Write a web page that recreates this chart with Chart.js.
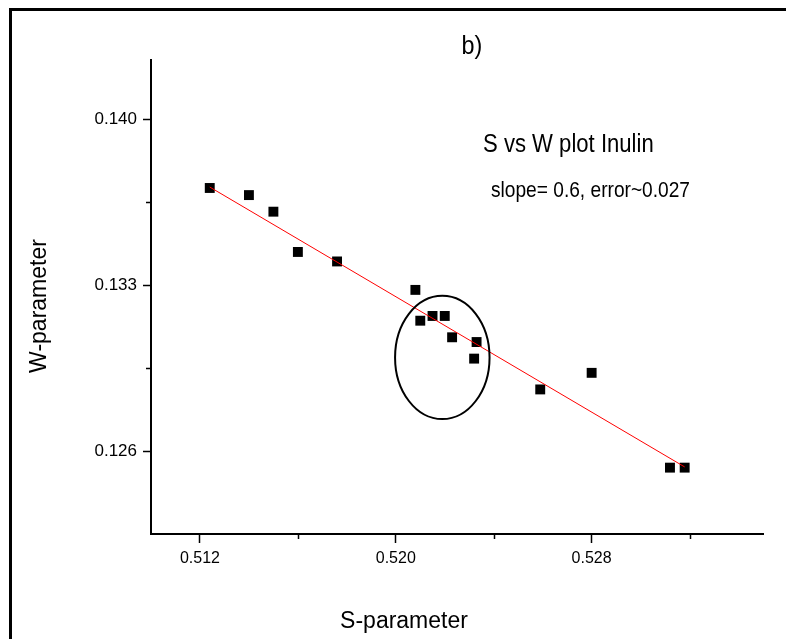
<!DOCTYPE html>
<html><head><meta charset="utf-8">
<script src="https://cdn.jsdelivr.net/npm/chart.js@4/dist/chart.umd.min.js"></script>
<style>html,body{margin:0;padding:0;background:#fff;overflow:hidden}#wrap{width:786px;height:639px;position:relative}</style>
</head><body><div id="wrap"><canvas id="c" width="786" height="639"></canvas></div>
<script>
const sValues = [0.5124, 0.5140, 0.5150, 0.5160, 0.5176, 0.5208, 0.5210, 0.5215, 0.5220, 0.5223, 0.5233, 0.5232, 0.5259, 0.5280, 0.5312, 0.5318];
const wValues = [0.1371, 0.1368, 0.1361, 0.1344, 0.1340, 0.1328, 0.1315, 0.1317, 0.1317, 0.1308, 0.1306, 0.1299, 0.1286, 0.1293, 0.1253, 0.1253];
const fitS = [0.5124, 0.5318];
const fitW = [0.13714, 0.12533];
const xMajorTicks = [0.512, 0.520, 0.528];
const xMinorTicks = [0.516, 0.524, 0.532];
const yMajorTicks = [0.126, 0.133, 0.140];
const yMinorTicks = [0.1295, 0.1365];
const ellipseCenter = [0.5219, 0.12995];
const ellipseRadii = [0.00193, 0.0026];
const panelLabel = 'b)';
const plotTitle = 'S vs W plot Inulin';
const fitNote = 'slope= 0.6, error~0.027';
const xTitle = 'S-parameter';
const yTitle = 'W-parameter';

const FONT = "'Liberation Sans', Arial, sans-serif";

const points = sValues.map((s, i) => ({x: s, y: wValues[i]}));
const fitLine = fitS.map((s, i) => ({x: s, y: fitW[i]}));

function squeezedText(ctx, text, x, y, sx) {
  ctx.save();
  ctx.translate(x, y);
  ctx.scale(sx, 1);
  ctx.fillText(text, 0, 0);
  ctx.restore();
}

const extras = {
  id: 'extras',
  afterDraw(chart) {
    const ctx = chart.ctx;
    const xs = chart.scales.x, ys = chart.scales.y;
    ctx.save();
    // minor ticks
    ctx.strokeStyle = '#000';
    ctx.lineWidth = 1.5;
    ctx.beginPath();
    xMinorTicks.forEach(v => {
      const px = Math.round(xs.getPixelForValue(v)) + 0.5;
      ctx.moveTo(px, xs.top); ctx.lineTo(px, xs.top + 5);
    });
    yMinorTicks.forEach(v => {
      const py = Math.round(ys.getPixelForValue(v)) + 0.5;
      ctx.moveTo(ys.right, py); ctx.lineTo(ys.right - 5, py);
    });
    ctx.stroke();
    // ellipse
    const cx = xs.getPixelForValue(ellipseCenter[0]);
    const cy = ys.getPixelForValue(ellipseCenter[1]);
    const rx = Math.abs(xs.getPixelForValue(ellipseCenter[0] + ellipseRadii[0]) - cx);
    const ry = Math.abs(ys.getPixelForValue(ellipseCenter[1] + ellipseRadii[1]) - cy);
    ctx.lineWidth = 2;
    ctx.beginPath();
    ctx.ellipse(cx, cy, rx, ry, 0, 0, Math.PI * 2);
    ctx.stroke();
    // frame
    ctx.lineWidth = 3;
    ctx.beginPath();
    ctx.moveTo(10.5, 639); ctx.lineTo(10.5, 9.5); ctx.lineTo(786, 9.5);
    ctx.stroke();
    // texts
    ctx.fillStyle = '#000';
    ctx.textBaseline = 'middle';
    ctx.textAlign = 'center';
    ctx.font = '26px ' + FONT;
    squeezedText(ctx, panelLabel, 472, 47, 0.9);
    ctx.textAlign = 'left';
    ctx.font = '26px ' + FONT;
    squeezedText(ctx, plotTitle, 483, 145, 0.85);
    ctx.font = '22px ' + FONT;
    squeezedText(ctx, fitNote, 491, 191, 0.87);
    // axis titles
    ctx.textAlign = 'center';
    ctx.font = '23px ' + FONT;
    ctx.fillText(xTitle, 404, 622);
    ctx.save();
    ctx.translate(40, 306);
    ctx.rotate(-Math.PI / 2);
    ctx.fillText(yTitle, 0, 0);
    ctx.restore();
    ctx.restore();
  }
};

new Chart(document.getElementById('c'), {
  data: {
    datasets: [
      {type: 'line', data: fitLine, borderColor: '#ff0000', borderWidth: 1, pointRadius: 0, fill: false},
      {type: 'scatter', data: points, pointStyle: 'rect', pointRadius: 7, pointHoverRadius: 7,
       backgroundColor: '#000', borderColor: '#000', borderWidth: 0}
    ]
  },
  options: {
    responsive: false, animation: false, devicePixelRatio: 1,
    layout: {padding: {left: 0, top: 60, right: 23, bottom: 0}},
    plugins: {legend: {display: false}, tooltip: {enabled: false}},
    scales: {
      x: {
        type: 'linear', position: 'bottom', min: 0.510, max: 0.535,
        afterBuildTicks: s => { s.ticks = xMajorTicks.map(v => ({value: v})); },
        afterFit: s => { s.height = 105; },
        ticks: {autoSkip: false, maxRotation: 0, padding: 6, color: '#000',
                font: {family: FONT, size: 16}, callback: v => v.toFixed(3)},
        grid: {display: true, drawOnChartArea: false, drawTicks: true, tickLength: 9, tickWidth: 1.5, tickColor: '#000'},
        border: {display: true, color: '#000', width: 2},
        title: {display: false}
      },
      y: {
        type: 'linear', position: 'left', min: 0.1225, max: 0.1425,
        afterBuildTicks: s => { s.ticks = yMajorTicks.map(v => ({value: v})); },
        afterFit: s => { s.width = 151; },
        ticks: {autoSkip: false, padding: 6, color: '#000',
                font: {family: FONT, size: 17}, callback: v => v.toFixed(3)},
        grid: {display: true, drawOnChartArea: false, drawTicks: true, tickLength: 8, tickWidth: 1.5, tickColor: '#000'},
        border: {display: true, color: '#000', width: 2},
        title: {display: false}
      }
    }
  },
  plugins: [extras]
});
</script></body></html>
